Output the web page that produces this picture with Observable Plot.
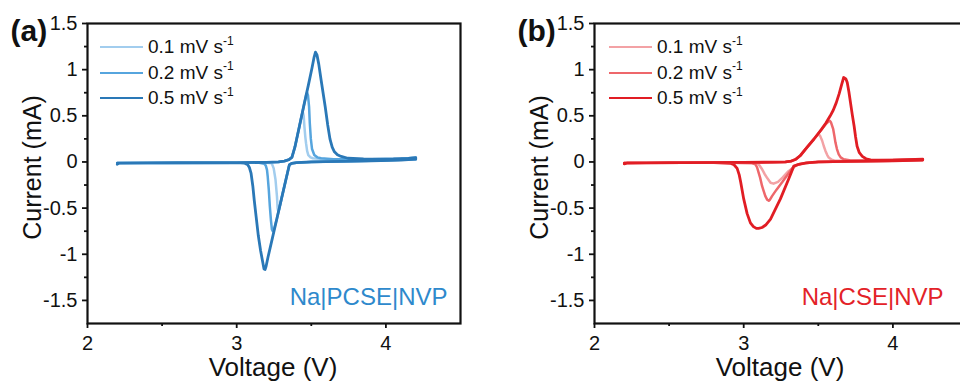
<!DOCTYPE html>
<html>
<head>
<meta charset="utf-8">
<script src="https://cdn.jsdelivr.net/npm/d3@7"></script>
<script src="https://cdn.jsdelivr.net/npm/@observablehq/plot@0.6"></script>
<style>
  body { margin: 0; background: #fff; }
  #wrap { position: relative; width: 960px; height: 383px; overflow: hidden; background: #fff;
          font-family: "Liberation Sans", Arial, sans-serif; color: #111; }
  .panel { position: absolute; top: 0; width: 480px; height: 383px; }
  .panel svg { max-width: none !important; width: 480px; height: 383px; }
  .legend { position: absolute; top: 34.5px; font-size: 19px; }
  .row { display: flex; align-items: center; height: 25.5px; white-space: nowrap; }
  .sw { display: inline-block; width: 43px; margin-right: 5px; }
  .row sup { font-size: 12px; line-height: 0; position: relative; top: -1px; }
</style>
</head>
<body>
<div id="wrap"></div>
<script>
// ---------- data ----------
const rateLabels = ["0.1", "0.2", "0.5"];
const panelTags = ["(a)", "(b)"];
const cellNames = ["Na|PCSE|NVP", "Na|CSE|NVP"];
const xTicks = [2, 3, 4];
const xMinor = [2.5, 3.5];
const yTicks = [-1.5, -1, -0.5, 0, 0.5, 1, 1.5];
const yMinor = [-1.25, -0.75, -0.25, 0.25, 0.75, 1.25];
const blueColors = ["#a2cdee", "#56a5de", "#2a78b7"];
const redColors = ["#f3a2a5", "#ee676b", "#e11d24"];
const blueText = "#2e89cc";
const redText = "#e32228";

// Panel (a) Na|PCSE|NVP : [voltage V, current mA], forward scan then reverse scan
const pcse01 = [[2.2,-0.02],[2.21,-0.012],[2.5,-0.01],[3.0,-0.008],[3.2,-0.004],[3.28,0.0],[3.32,0.01],[3.35,0.025],[3.37,0.05],[3.39,0.16],[3.42,0.385],[3.435,0.50],[3.443,0.54],[3.449,0.50],[3.454,0.38],[3.46,0.27],[3.465,0.20],[3.472,0.12],[3.48,0.075],[3.495,0.05],[3.51,0.04],[3.6,0.03],[3.9,0.03],[4.1,0.035],[4.2,0.045],
  [4.2,0.03],[3.9,0.012],[3.5,0.0],[3.4,-0.008],[3.37,-0.015],[3.353,-0.03],[3.33,-0.19],[3.30,-0.40],[3.285,-0.51],[3.279,-0.54],[3.274,-0.50],[3.27,-0.375],[3.26,-0.19],[3.248,-0.07],[3.235,-0.015],[3.2,-0.008],[2.8,-0.008],[2.2,-0.012]];
const pcse02 = [[2.2,-0.02],[2.21,-0.012],[2.5,-0.01],[3.0,-0.008],[3.2,-0.004],[3.28,0.0],[3.32,0.01],[3.35,0.025],[3.37,0.05],[3.39,0.16],[3.42,0.385],[3.45,0.61],[3.465,0.72],[3.472,0.75],[3.478,0.72],[3.485,0.60],[3.49,0.42],[3.497,0.25],[3.505,0.14],[3.52,0.076],[3.54,0.05],[3.566,0.04],[3.65,0.03],[3.9,0.03],[4.1,0.035],[4.2,0.045],
  [4.2,0.03],[3.9,0.012],[3.5,0.0],[3.4,-0.008],[3.37,-0.015],[3.353,-0.03],[3.33,-0.19],[3.30,-0.40],[3.27,-0.61],[3.25,-0.73],[3.242,-0.75],[3.236,-0.73],[3.23,-0.64],[3.222,-0.48],[3.215,-0.30],[3.208,-0.16],[3.203,-0.086],[3.195,-0.04],[3.185,-0.02],[3.15,-0.008],[2.8,-0.008],[2.2,-0.012]];
const pcse05 = [[2.2,-0.025],[2.21,-0.012],[2.4,-0.01],[2.8,-0.01],[3.0,-0.008],[3.2,-0.004],[3.28,0.0],[3.32,0.01],[3.35,0.025],[3.37,0.05],[3.39,0.16],[3.42,0.385],[3.45,0.61],[3.48,0.83],[3.505,1.02],[3.518,1.13],[3.528,1.19],[3.538,1.16],[3.55,1.06],[3.566,0.885],[3.593,0.60],[3.61,0.40],[3.625,0.25],[3.64,0.16],[3.655,0.11],[3.675,0.078],[3.70,0.06],[3.745,0.04],[3.85,0.032],[3.92,0.03],[4.05,0.032],[4.15,0.038],[4.2,0.046],
  [4.2,0.03],[4.1,0.02],[3.9,0.012],[3.7,0.006],[3.5,0.0],[3.4,-0.008],[3.37,-0.015],[3.353,-0.03],[3.33,-0.19],[3.30,-0.40],[3.27,-0.61],[3.24,-0.82],[3.21,-1.03],[3.197,-1.13],[3.19,-1.165],[3.183,-1.16],[3.174,-1.08],[3.16,-0.96],[3.145,-0.80],[3.13,-0.59],[3.118,-0.42],[3.108,-0.26],[3.096,-0.12],[3.085,-0.06],[3.074,-0.03],[3.05,-0.012],[3.0,-0.008],[2.6,-0.008],[2.2,-0.012]];

// Panel (b) Na|CSE|NVP
const cse01 = [[2.2,-0.02],[2.22,-0.01],[2.6,-0.008],[3.0,-0.005],[3.2,-0.002],[3.28,0.0],[3.32,0.01],[3.35,0.03],[3.38,0.07],[3.42,0.15],[3.47,0.246],[3.49,0.285],[3.503,0.30],[3.513,0.28],[3.526,0.23],[3.537,0.17],[3.548,0.12],[3.56,0.075],[3.57,0.048],[3.59,0.025],[3.615,0.012],[3.7,0.012],[3.9,0.018],[4.2,0.03],
  [4.2,0.02],[4.0,0.012],[3.7,0.006],[3.5,0.0],[3.42,-0.01],[3.37,-0.025],[3.35,-0.04],[3.30,-0.10],[3.26,-0.17],[3.23,-0.215],[3.20,-0.235],[3.18,-0.225],[3.16,-0.18],[3.14,-0.13],[3.12,-0.07],[3.105,-0.035],[3.09,-0.015],[2.8,-0.007],[2.2,-0.012]];
const cse02 = [[2.2,-0.02],[2.22,-0.01],[2.6,-0.008],[3.0,-0.005],[3.2,-0.002],[3.28,0.0],[3.32,0.01],[3.35,0.03],[3.38,0.07],[3.42,0.15],[3.47,0.246],[3.52,0.35],[3.55,0.41],[3.57,0.44],[3.577,0.445],[3.585,0.43],[3.60,0.355],[3.608,0.28],[3.615,0.21],[3.625,0.14],[3.637,0.083],[3.65,0.05],[3.67,0.03],[3.716,0.015],[3.85,0.018],[4.0,0.02],[4.2,0.03],
  [4.2,0.02],[4.0,0.012],[3.7,0.006],[3.5,0.0],[3.42,-0.01],[3.37,-0.025],[3.336,-0.045],[3.30,-0.125],[3.26,-0.215],[3.22,-0.30],[3.19,-0.37],[3.175,-0.41],[3.168,-0.42],[3.158,-0.41],[3.145,-0.37],[3.133,-0.31],[3.123,-0.26],[3.11,-0.17],[3.10,-0.115],[3.09,-0.06],[3.078,-0.025],[3.05,-0.01],[2.8,-0.007],[2.2,-0.012]];
const cse05 = [[2.2,-0.02],[2.22,-0.01],[2.6,-0.008],[3.0,-0.005],[3.2,-0.002],[3.28,0.0],[3.32,0.01],[3.35,0.03],[3.38,0.07],[3.42,0.15],[3.47,0.246],[3.52,0.35],[3.55,0.42],[3.58,0.50],[3.60,0.56],[3.62,0.64],[3.64,0.74],[3.655,0.83],[3.67,0.915],[3.685,0.90],[3.694,0.86],[3.705,0.76],[3.716,0.64],[3.728,0.51],[3.74,0.39],[3.75,0.27],[3.76,0.17],[3.775,0.10],[3.795,0.06],[3.82,0.035],[3.85,0.022],[4.0,0.02],[4.2,0.03],
  [4.2,0.02],[4.0,0.012],[3.7,0.006],[3.5,0.0],[3.42,-0.01],[3.37,-0.025],[3.336,-0.045],[3.30,-0.19],[3.246,-0.40],[3.21,-0.52],[3.18,-0.62],[3.15,-0.68],[3.123,-0.71],[3.10,-0.72],[3.085,-0.72],[3.065,-0.70],[3.045,-0.66],[3.023,-0.56],[3.0,-0.40],[2.98,-0.22],[2.97,-0.14],[2.956,-0.07],[2.935,-0.03],[2.91,-0.014],[2.8,-0.007],[2.5,-0.008],[2.2,-0.012]];

const panels = [
  {curves: [pcse01, pcse02, pcse05], colors: blueColors, textColor: blueText, nameDx: -13, left: 0, legendDx: 13},
  {curves: [cse01, cse02, cse05], colors: redColors, textColor: redText, nameDx: -24, left: 507, legendDx: 15}
];

// ---------- drawing ----------
const W = 480, H = 383, ML = 87, MR = 20, MT = 23, MB = 60;
const font = "'Liberation Sans', Arial, sans-serif";
const wrap = document.getElementById("wrap");
const widths = [2.5, 2.5, 2.8];

panels.forEach((p, pi) => {
  const lineMarks = p.curves.map((c, k) =>
    Plot.line(c.map(([v, i]) => ({v, i})), {x: "v", y: "i", stroke: p.colors[k], strokeWidth: widths[k], strokeLinejoin: "round", strokeLinecap: "round"})
  );
  const chart = Plot.plot({
    width: W, height: H, marginLeft: ML, marginRight: MR, marginTop: MT, marginBottom: MB,
    x: {domain: [2, 4.5], label: null},
    y: {domain: [-1.75, 1.5], label: null},
    style: {fontFamily: font, fontSize: "20px", color: "#111", background: "transparent", overflow: "visible"},
    marks: [
      ...lineMarks,
      Plot.axisX(xTicks, {tickSize: 5, tickPadding: 7, strokeWidth: 1.8, tickFormat: d => String(d), fontSize: 20, label: null}),
      Plot.axisX(xMinor, {tickSize: 3, strokeWidth: 1.8, tickFormat: () => "", label: null}),
      Plot.axisY(yTicks, {tickSize: 5, tickPadding: 5, strokeWidth: 1.8, tickFormat: d => String(d), fontSize: 20, label: null}),
      Plot.axisY(yMinor, {tickSize: 3, strokeWidth: 1.8, tickFormat: () => "", label: null}),
      Plot.frame({stroke: "#111", strokeWidth: 2.2}),
      Plot.text([panelTags[pi]], {frameAnchor: "top-left", dx: -77, dy: 17, textAnchor: "start", lineAnchor: "bottom", fontSize: 30, fontWeight: "bold", fill: "#111"}),
      Plot.text(["Current (mA)"], {frameAnchor: "left", dx: -55, dy: -6, rotate: -90, textAnchor: "middle", lineAnchor: "middle", fontSize: 25, fill: "#111"}),
      Plot.text(["Voltage (V)"], {frameAnchor: "bottom", dx: -1, dy: 52, textAnchor: "middle", lineAnchor: "bottom", fontSize: 26, fill: "#111"}),
      Plot.text([cellNames[pi]], {frameAnchor: "bottom-right", dx: p.nameDx, dy: -19, textAnchor: "end", lineAnchor: "bottom", fontSize: 24, fill: p.textColor})
    ]
  });
  const holder = document.createElement("div");
  holder.className = "panel";
  holder.style.left = p.left + "px";
  holder.appendChild(chart);
  wrap.appendChild(holder);

  const legend = document.createElement("div");
  legend.className = "legend";
  legend.style.left = (p.left + ML + p.legendDx) + "px";
  rateLabels.forEach((r, k) => {
    const row = document.createElement("div");
    row.className = "row";
    const sw = document.createElement("span");
    sw.className = "sw";
    sw.style.borderTop = widths[k] + "px solid " + p.colors[k];
    row.appendChild(sw);
    const t = document.createElement("span");
    t.innerHTML = r + " mV s<sup>-1</sup>";
    row.appendChild(t);
    legend.appendChild(row);
  });
  wrap.appendChild(legend);
});
</script>
</body>
</html>
